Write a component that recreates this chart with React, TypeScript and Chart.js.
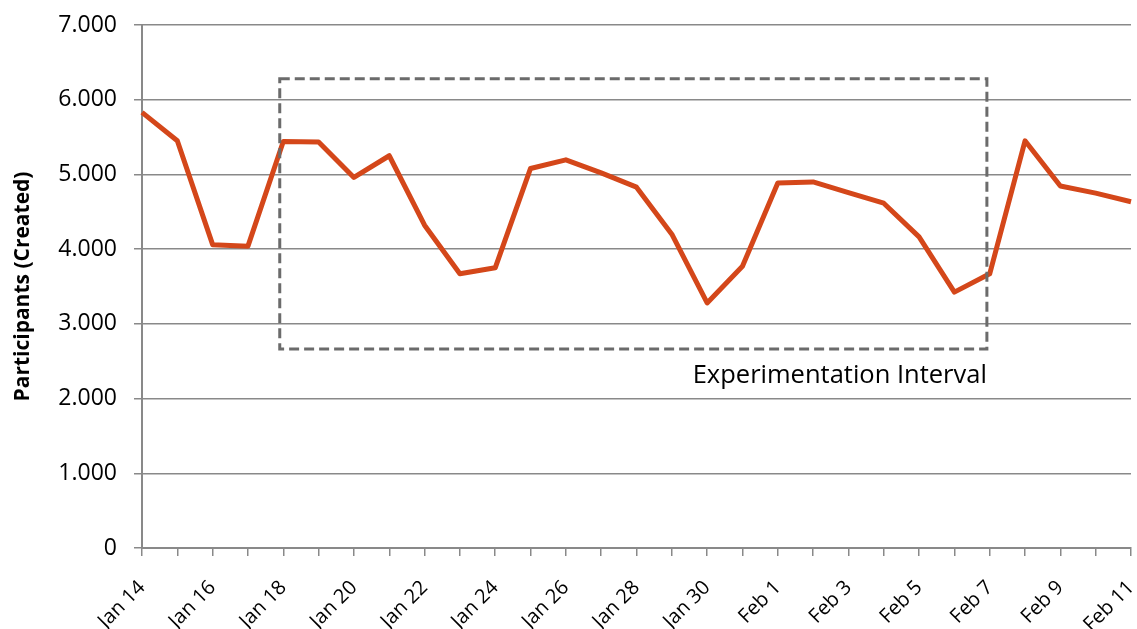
import React, { useEffect, useRef } from "react";
import { Chart, registerables } from "chart.js";

Chart.register(...registerables);

const categories = [
  "Jan 14", "Jan 15", "Jan 16", "Jan 17", "Jan 18", "Jan 19", "Jan 20", "Jan 21",
  "Jan 22", "Jan 23", "Jan 24", "Jan 25", "Jan 26", "Jan 27", "Jan 28", "Jan 29",
  "Jan 30", "Jan 31", "Feb 1", "Feb 2", "Feb 3", "Feb 4", "Feb 5", "Feb 6",
  "Feb 7", "Feb 8", "Feb 9", "Feb 10", "Feb 11",
];

const participants = [
  5830, 5450, 4060, 4040, 5440, 5435, 4960, 5250,
  4320, 3670, 3750, 5080, 5195, 5020, 4830, 4200,
  3280, 3770, 4885, 4900, 4755, 4615, 4165, 3425,
  3670, 5450, 4845, 4750, 4635,
];

const yMin = 0;
const yMax = 7000;
const yStep = 1000;

const yTitle = "Participants (Created)";
const intervalLabel = "Experimentation Interval";
// box of the experimentation interval in data units (category index, value)
const intervalStart = 3.9;
const intervalEnd = 23.92;
const intervalTop = 6280;
const intervalBottom = 2665;

const FONT = "'Open Sans', 'DejaVu Sans', sans-serif";

const fmtThousands = (v: number) =>
  String(Math.round(v)).replace(/\B(?=(\d{3})+(?!\d))/g, ".");

const intervalPlugin = {
  id: "intervalBox",
  afterDatasetsDraw(chart: any) {
    const { ctx, scales } = chart;
    const x = scales.x;
    const y = scales.y;
    const l = x.getPixelForValue(intervalStart);
    const r = x.getPixelForValue(intervalEnd);
    const t = y.getPixelForValue(intervalTop);
    const b = y.getPixelForValue(intervalBottom);
    ctx.save();
    ctx.strokeStyle = "#6b6b6b";
    ctx.lineWidth = 3;
    ctx.setLineDash([10, 5]);
    ctx.strokeRect(l, t, r - l, b - t);
    ctx.setLineDash([]);
    ctx.fillStyle = "#000";
    ctx.font = `25.5px ${FONT}`;
    ctx.textAlign = "right";
    ctx.textBaseline = "alphabetic";
    ctx.fillText(intervalLabel, r, b + 34);
    ctx.restore();
  },
};

export default function App() {
  const ref = useRef<HTMLCanvasElement | null>(null);

  useEffect(() => {
    if (!ref.current) return;
    const chart = new Chart(ref.current, {
      type: "line",
      data: {
        labels: categories,
        datasets: [
          {
            data: participants,
            borderColor: "#D4471A",
            backgroundColor: "#D4471A",
            borderWidth: 5,
            pointRadius: 0,
            tension: 0,
            fill: false,
            borderJoinStyle: "round",
          },
        ],
      },
      plugins: [intervalPlugin],
      options: {
        animation: false,
        responsive: true,
        maintainAspectRatio: false,
        layout: { padding: { top: 25, right: 6, left: 0, bottom: 0 } },
        plugins: {
          legend: { display: false },
          tooltip: { enabled: false },
          title: { display: false },
        },
        scales: {
          x: {
            type: "category",
            offset: false,
            afterFit: (s: any) => {
              s.height = 81;
              s.paddingLeft = 0;
              s.paddingRight = 0;
            },
            grid: {
              display: true,
              drawOnChartArea: false,
              drawTicks: true,
              tickLength: 8,
              color: "#898989",
              lineWidth: 1.5,
            },
            border: { display: true, color: "#898989", width: 2 },
            ticks: {
              autoSkip: false,
              maxRotation: 45,
              minRotation: 45,
              padding: 20,
              color: "#000",
              font: { family: FONT, size: 20 },
              callback: (_v: any, i: number) => (i % 2 === 0 ? categories[i] : ""),
            },
          },
          y: {
            min: yMin,
            max: yMax,
            afterFit: (s: any) => {
              s.width = 142;
              s.paddingTop = 0;
              s.paddingBottom = 0;
            },
            grid: {
              color: "#898989",
              lineWidth: 1.5,
              tickLength: 8,
            },
            border: { display: true, color: "#898989", width: 2 },
            ticks: {
              stepSize: yStep,
              padding: 17,
              color: "#000",
              font: { family: FONT, size: 23 },
              callback: (v: any) => fmtThousands(Number(v)),
            },
            title: {
              display: true,
              text: yTitle,
              color: "#000",
              font: { family: FONT, size: 21, weight: "bold" },
              padding: { top: 10, bottom: 0 },
            },
          },
        },
      },
    });
    return () => chart.destroy();
  }, []);

  return (
    <div style={{ position: "fixed", left: 0, top: 0, width: 1137, height: 629, background: "#fff" }}>
      <canvas ref={ref} />
    </div>
  );
}
